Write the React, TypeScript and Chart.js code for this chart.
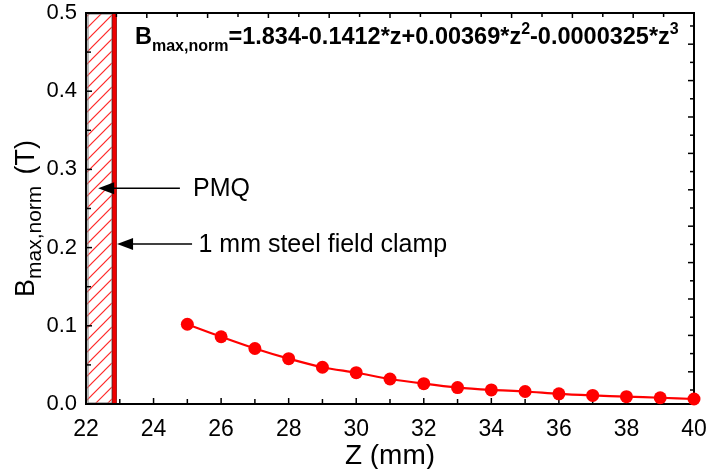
import React, { useEffect, useRef } from "react";
import { Chart, registerables } from "chart.js";

Chart.register(...registerables);

// ---- data ----
const zValues = [25, 26, 27, 28, 29, 30, 31, 32, 33, 34, 35, 36, 37, 38, 39, 40];
const bValues = [0.102, 0.086, 0.071, 0.058, 0.047, 0.04, 0.032, 0.026, 0.021, 0.018, 0.016, 0.013, 0.011, 0.0094, 0.008, 0.0064];
const xRange = [22, 40];
const yRange = [0, 0.5];
const pmqRange = [22, 22.77];
const clampRange = [22.78, 22.9];
const equationParts: [string, string][] = [
  ["n", "B"],
  ["sub", "max,norm"],
  ["n", "=1.834-0.1412*z+0.00369*z"],
  ["sup", "2"],
  ["n", "-0.0000325*z"],
  ["sup", "3"],
];
const xTitle = "Z (mm)";
const annotations = [
  { label: "PMQ", tipX: 22.36, tailX: 24.78, y: 0.276, textX: 25.17 },
  { label: "1 mm steel field clamp", tipX: 22.92, tailX: 25.14, y: 0.2045, textX: 25.33 },
];

const FONT = "'Liberation Sans', Arial, Helvetica, sans-serif";

function drawArrow(ctx: CanvasRenderingContext2D, tipX: number, tailX: number, y: number) {
  ctx.save();
  ctx.strokeStyle = "#000";
  ctx.fillStyle = "#000";
  ctx.lineWidth = 1.5;
  const headLen = 16;
  ctx.beginPath();
  ctx.moveTo(tailX, y);
  ctx.lineTo(tipX + headLen - 2, y);
  ctx.stroke();
  ctx.beginPath();
  ctx.moveTo(tipX, y);
  ctx.lineTo(tipX + headLen, y - 6);
  ctx.lineTo(tipX + headLen, y + 6);
  ctx.closePath();
  ctx.fill();
  ctx.restore();
}

const decorPlugin = {
  id: "decor",
  beforeDatasetsDraw(chart: any) {
    const { ctx, chartArea: a, scales } = chart;
    const x = scales.x;
    const y = scales.y;
    const hx0 = x.getPixelForValue(pmqRange[0]);
    const hx1 = x.getPixelForValue(pmqRange[1]);
    const h = a.bottom - a.top;
    ctx.save();
    ctx.beginPath();
    ctx.rect(hx0, a.top, hx1 - hx0, h);
    ctx.clip();
    ctx.strokeStyle = "rgb(255,40,40)";
    ctx.lineWidth = 1.1;
    const w = hx1 - hx0;
    for (let yy = a.top - w - 20; yy < a.bottom + 20; yy += 12) {
      ctx.beginPath();
      ctx.moveTo(hx0, yy + w);
      ctx.lineTo(hx1, yy);
      ctx.stroke();
    }
    ctx.restore();
    ctx.save();
    ctx.strokeStyle = "#8a8a8a";
    ctx.lineWidth = 1.2;
    ctx.strokeRect(hx0 + 2, a.top + 1, hx1 - hx0 - 2, h - 2);
    // steel clamp bar
    const cx0 = x.getPixelForValue(clampRange[0]);
    const cx1 = x.getPixelForValue(clampRange[1]);
    ctx.fillStyle = "#ee0000";
    ctx.fillRect(cx0, a.top, cx1 - cx0, h);
    ctx.strokeStyle = "#900000";
    ctx.lineWidth = 0.8;
    ctx.strokeRect(cx0, a.top, cx1 - cx0, h);
    ctx.restore();

    ctx.save();
    // frame
    ctx.strokeStyle = "#000";
    ctx.lineWidth = 2;
    ctx.strokeRect(a.left, a.top, a.right - a.left, a.bottom - a.top);
    ctx.lineWidth = 1.5;
    // bottom ticks
    for (let v = xRange[0] + 1; v < xRange[1]; v += 1) {
      const px = x.getPixelForValue(v);
      const len = v % 2 === 0 ? 6 : 5;
      ctx.beginPath();
      ctx.moveTo(px, a.bottom);
      ctx.lineTo(px, a.bottom - len);
      ctx.stroke();
    }
    // left ticks
    for (let i = 1; i < 10; i++) {
      const v = i * 0.05;
      const py = y.getPixelForValue(v);
      const len = i % 2 === 0 ? 6 : 5;
      ctx.beginPath();
      ctx.moveTo(a.left, py);
      ctx.lineTo(a.left + len, py);
      ctx.stroke();
    }
    // top ticks (secondary axis)
    const W = a.right - a.left;
    for (let k = 1; k < 20; k++) {
      const px = a.left + (W * k) / 20;
      const len = k % 2 === 0 ? 5 : 4;
      ctx.beginPath();
      ctx.moveTo(px, a.top);
      ctx.lineTo(px, a.top + len);
      ctx.stroke();
    }
    // right ticks (secondary axis)
    for (let k = 0; k <= 20; k++) {
      const py = a.bottom - h * 0.0358 - (h * 0.931 * k) / 20;
      const len = k % 2 === 1 ? 6 : 4;
      ctx.beginPath();
      ctx.moveTo(a.right, py);
      ctx.lineTo(a.right - len, py);
      ctx.stroke();
    }
    ctx.restore();
  },
  afterDraw(chart: any) {
    const { ctx, chartArea: a, scales } = chart;
    const x = scales.x;
    const y = scales.y;

    // annotations
    ctx.save();
    for (const an of annotations) {
      const py = y.getPixelForValue(an.y);
      drawArrow(ctx, x.getPixelForValue(an.tipX), x.getPixelForValue(an.tailX), py);
      ctx.fillStyle = "#000";
      ctx.font = `25px ${FONT}`;
      ctx.textBaseline = "middle";
      ctx.textAlign = "left";
      ctx.fillText(an.label, x.getPixelForValue(an.textX), py + 1);
    }
    ctx.restore();

    // equation
    ctx.save();
    ctx.fillStyle = "#000";
    ctx.textBaseline = "alphabetic";
    ctx.textAlign = "left";
    let ex = a.left + 49;
    const eb = a.top + 31;
    for (const [kind, txt] of equationParts) {
      const size = kind === "n" ? 23.5 : 16;
      ctx.font = `bold ${size}px ${FONT}`;
      const off = kind === "sub" ? 7 : kind === "sup" ? -10 : 0;
      ctx.fillText(txt, ex, eb + off);
      ex += ctx.measureText(txt).width;
    }
    ctx.restore();

    // y title
    ctx.save();
    ctx.fillStyle = "#000";
    ctx.translate(34, 297);
    ctx.rotate(-Math.PI / 2);
    ctx.textBaseline = "alphabetic";
    ctx.textAlign = "left";
    ctx.font = `27px ${FONT}`;
    let tx = 0;
    ctx.fillText("B", tx, 0);
    tx += ctx.measureText("B").width;
    ctx.font = `21px ${FONT}`;
    ctx.fillText("max,norm", tx, 7);
    ctx.font = `27px ${FONT}`;
    const tw = ctx.measureText("(T)").width;
    ctx.fillText("(T)", 157 - tw, 0);
    ctx.restore();

    // x title
    ctx.save();
    ctx.fillStyle = "#000";
    ctx.font = `28px ${FONT}`;
    ctx.textAlign = "center";
    ctx.textBaseline = "alphabetic";
    ctx.fillText(xTitle, (a.left + a.right) / 2, 464);
    ctx.restore();
  },
};

export default function App() {
  const ref = useRef<HTMLCanvasElement | null>(null);
  useEffect(() => {
    if (!ref.current) return;
    const chart = new Chart(ref.current, {
      type: "line",
      data: {
        datasets: [
          {
            data: zValues.map((z, i) => ({ x: z, y: bValues[i] })),
            borderColor: "#ff0000",
            backgroundColor: "#ff0000",
            borderWidth: 2.2,
            pointRadius: 6.5,
            pointBorderWidth: 0,
            pointBackgroundColor: "#ff0000",
            tension: 0.3,
            fill: false,
            clip: false,
          },
        ],
      },
      options: {
        animation: false,
        responsive: true,
        maintainAspectRatio: false,
        events: [],
        layout: { padding: { top: 13, right: 16, left: 0, bottom: 0 } },
        plugins: { legend: { display: false }, tooltip: { enabled: false } },
        scales: {
          x: {
            type: "linear",
            min: xRange[0],
            max: xRange[1],
            grid: { display: false, drawTicks: false },
            border: { display: false },
            ticks: {
              stepSize: 2,
              padding: 12,
              color: "#000",
              font: { family: FONT, size: 23 },
              maxRotation: 0,
              autoSkip: false,
            },
            afterFit: (s: any) => {
              s.height = 65;
              s.paddingRight = 0;
              s.paddingLeft = 0;
            },
          },
          y: {
            type: "linear",
            min: yRange[0],
            max: yRange[1],
            grid: { display: false, drawTicks: false },
            border: { display: false },
            ticks: {
              stepSize: 0.1,
              padding: 9,
              color: "#000",
              font: { family: FONT, size: 22 },
              callback: (v: any) => Number(v).toFixed(1),
            },
            afterFit: (s: any) => {
              s.width = 86;
              s.paddingTop = 0;
              s.paddingBottom = 0;
            },
          },
        },
      },
      plugins: [decorPlugin],
    } as any);
    return () => chart.destroy();
  }, []);
  return (
    <div style={{ position: "absolute", left: 0, top: 0, width: 710, height: 469, background: "#fff" }}>
      <canvas ref={ref} />
    </div>
  );
}
